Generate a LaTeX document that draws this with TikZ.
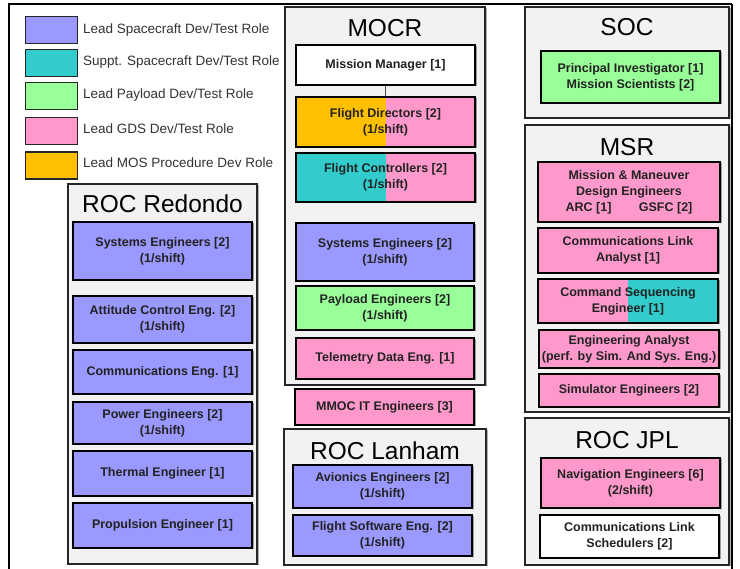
\documentclass[tikz,border=0pt]{standalone}
\usepackage{fontspec}
\setmainfont{Liberation Sans}
\usetikzlibrary{shadows}
\definecolor{cblue}{HTML}{9999FF}
\definecolor{cteal}{HTML}{33CCCC}
\definecolor{cgreen}{HTML}{99FF99}
\definecolor{cpink}{HTML}{FF99CC}
\definecolor{corange}{HTML}{FFC000}
\definecolor{cgroup}{HTML}{F2F2F2}
\definecolor{ctext}{HTML}{222222}
\definecolor{clegtext}{HTML}{333333}
\newcommand\rolebox[8][]{%
  \pgfmathsetmacro\bw{#5-#3}\pgfmathsetmacro\bh{#6-#4}%
  \pgfmathsetmacro\bx{(#3+#5)/2}\pgfmathsetmacro\by{(#4+#6)/2}%
  \node[rbox, fill=#7, minimum width=\bw pt, minimum height=\bh pt, #1] (#2) at (\bx,\by) {#8};}
\newcommand\groupbox[7]{%
  \pgfmathsetmacro\bw{#4-#2}\pgfmathsetmacro\bh{#5-#3}%
  \pgfmathsetmacro\bx{(#2+#4)/2}\pgfmathsetmacro\by{(#3+#5)/2}%
  \node[gbox, minimum width=\bw pt, minimum height=\bh pt] (#1) at (\bx,\by) {};
  \node[gtitle] (#1-t) at (\bx,#6) {#7};}
\tikzset{
  rbox/.style={draw=black, line width=1.6pt, inner sep=0pt, align=center,
    text=ctext, font=\fontsize{12.5}{16}\selectfont\bfseries,
    drop shadow={shadow xshift=1.5pt, shadow yshift=-1.5pt, fill=black, opacity=0.35}},
  gbox/.style={draw=black!85, line width=1.4pt, fill=cgroup, inner sep=0pt,
    drop shadow={shadow xshift=1.5pt, shadow yshift=-1.5pt, fill=black, opacity=0.3}},
  gtitle/.style={font=\fontsize{24.5}{28}\selectfont, text=black, inner sep=0pt},
  swatch/.style={draw=black!85, line width=1.6pt, minimum width=52pt, minimum height=27pt, inner sep=0pt},
  legtext/.style={anchor=west, inner sep=0pt, text=clegtext, font=\fontsize{13.5}{16}\selectfont},
  leftpart/.style={path picture={\fill[#1] (path picture bounding box.south) rectangle (path picture bounding box.north west);}},
  rightpart/.style={path picture={\fill[#1] (path picture bounding box.south) rectangle (path picture bounding box.north east);}},
}
\begin{document}
\begin{tikzpicture}[x=1pt,y=-1pt]
\useasboundingbox (0,0) rectangle (740,569);
\fill[white] (0,0) rectangle (740,569);
% outer frame
\coordinate (ftl) at (9,4);
\coordinate (ftr) at (732,4);
\coordinate (fbl) at (9,569);
\coordinate (fbr) at (732,569);
\draw[line width=2pt] (fbl) -- (ftl) -- (ftr);
\draw[line width=1.4pt] (ftr) -- (fbr);
% legend
\node[swatch, fill=cblue]   (l1) at (51.5,30) {};
\node[swatch, fill=cteal]   (l2) at (51.5,63) {};
\node[swatch, fill=cgreen]  (l3) at (51.5,96) {};
\node[swatch, fill=cpink]   (l4) at (51.5,131) {};
\node[swatch, fill=corange] (l5) at (51.5,165.5) {};
\node[legtext] (t1) at (83,30) {Lead Spacecraft Dev/Test Role};
\node[legtext] (t2) at (83,62) {Suppt. Spacecraft Dev/Test Role};
\node[legtext] (t3) at (83,95) {Lead Payload Dev/Test Role};
\node[legtext] (t4) at (83,129) {Lead GDS Dev/Test Role};
\node[legtext] (t5) at (83,163) {Lead MOS Procedure Dev Role};
% ROC Redondo
\groupbox{redondo}{68}{184}{257}{564}{204}{ROC Redondo}
\rolebox{r1}{73}{222}{252}{280}{cblue}{Systems Engineers [2]\\(1/shift)}
\rolebox{r2}{73}{296}{252}{343}{cblue}{Attitude Control Eng. [2]\\(1/shift)}
\rolebox{r3}{73}{350}{252}{394}{cblue}{Communications Eng. [1]}
\rolebox{r4}{73}{402}{252}{444}{cblue}{Power Engineers [2]\\(1/shift)}
\rolebox{r5}{73}{451}{252}{496}{cblue}{Thermal Engineer  [1]}
\rolebox{r6}{73}{503}{252}{548}{cblue}{Propulsion Engineer [1]}
% MOCR
\groupbox{mocr}{285}{7}{485}{385}{28}{MOCR}
\rolebox{mm}{296}{45}{475}{85}{white}{Mission Manager [1]}
\rolebox[leftpart=corange, line width=2.4pt]{fd}{296}{97}{475}{147}{cpink}{Flight Directors [2]\\(1/shift)}
\rolebox[leftpart=cteal]{fc}{296}{153}{475}{202}{cpink}{Flight Controllers [2]\\(1/shift)}
\rolebox{ms}{296}{223}{474}{281}{cblue}{Systems Engineers [2]\\(1/shift)}
\rolebox{pe}{296}{286}{474}{330}{cgreen}{Payload Engineers [2]\\(1/shift)}
\rolebox{td}{296}{338}{474}{379}{cpink}{Telemetry Data Eng. [1]}
\draw[line width=0.6pt, black!70] (mm.south) -- (fd.north);
\rolebox{it}{295}{389}{474}{425}{cpink}{MMOC IT Engineers [3]}
% ROC Lanham
\groupbox{lanham}{284}{429}{486}{565}{451}{ROC Lanham}
\rolebox{av}{293}{465}{472}{508}{cblue}{Avionics Engineers [2]\\(1/shift)}
\rolebox{fs}{293}{515}{472}{556}{cblue}{Flight Software Eng. [2]\\(1/shift)}
% SOC
\groupbox{soc}{525}{7}{729}{118}{27}{SOC}
\rolebox{pi}{541}{51}{720}{103}{cgreen}{Principal Investigator [1]\\Mission Scientists [2]}
% MSR
\groupbox{msr}{525}{125}{729}{412}{147}{MSR}
\rolebox{md}{538}{162}{720}{222}{cpink}{Mission \& Maneuver\\Design Engineers\\ARC [1]\hspace{2.2em}GSFC [2]}
\rolebox{cl}{538}{228}{718}{273}{cpink}{Communications Link\\Analyst [1]}
\rolebox[rightpart=cteal]{cs}{538}{279}{718}{323}{cpink}{Command Sequencing\\Engineer [1]}
\rolebox{ea}{539}{330}{719}{368}{cpink}{Engineering Analyst\\(perf. by Sim. And Sys. Eng.)}
\rolebox{se}{539}{374}{719}{407}{cpink}{Simulator Engineers [2]}
% ROC JPL
\groupbox{jpl}{525}{418}{729}{565}{440}{ROC JPL}
\rolebox{ne}{541}{458}{720}{508}{cpink}{Navigation Engineers [6]\\(2/shift)}
\rolebox{cls}{540}{515}{719}{558}{white}{Communications Link\\Schedulers [2]}
\end{tikzpicture}
\end{document}
